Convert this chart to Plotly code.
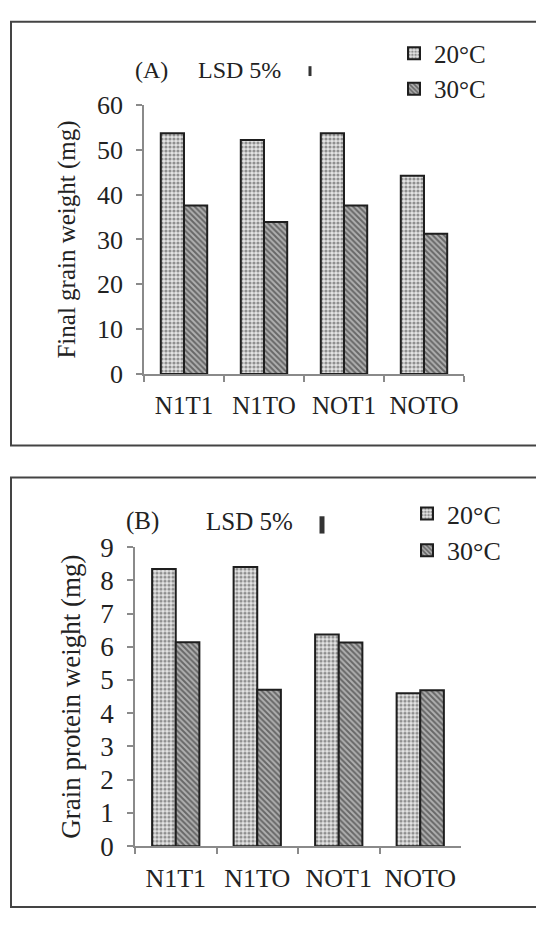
import plotly.graph_objects as go

W, H = 536, 925

categories = ["N1T1", "N1TO", "NOT1", "NOTO"]
series_names = ["20°C", "30°C"]

grain_20 = [53.7, 52.2, 53.7, 44.2]
grain_30 = [37.6, 33.9, 37.6, 31.3]
protein_20 = [8.34, 8.40, 6.37, 4.60]
protein_30 = [6.14, 4.71, 6.13, 4.69]

lsd_a = 2.2
lsd_b = 0.52

yticks_a = [0, 10, 20, 30, 40, 50, 60]
yticks_b = [0, 1, 2, 3, 4, 5, 6, 7, 8, 9]

FONT = "Liberation Serif"
TXT = "#222222"

# pixel layout helpers (margins are zero, so paper == pixel / size)
def px(x):
    return x / W

def py(y):
    return 1 - y / H

A_x = (144, 464)
A_y = (93, 371)  # top (60), bottom (0)
B_x = (135, 461)
B_y = (550, 859)  # top (9), bottom (0)

fig = go.Figure()

pat20 = dict(shape=".", size=4, solidity=0.5, fgcolor="#3a3a3a", bgcolor="#e4e4e4")
pat30 = dict(shape="\\", size=4, solidity=0.5, fgcolor="#1e1e1e", bgcolor="#b0b0b0")
line_bar = dict(color="#1e1e1e", width=2)

fig.add_trace(go.Bar(x=categories, y=grain_20, name=series_names[0], xaxis="x", yaxis="y",
                     marker=dict(color="#e4e4e4", pattern=pat20, line=line_bar), legend="legend"))
fig.add_trace(go.Bar(x=categories, y=grain_30, name=series_names[1], xaxis="x", yaxis="y",
                     marker=dict(color="#b0b0b0", pattern=pat30, line=line_bar), legend="legend"))
fig.add_trace(go.Bar(x=categories, y=protein_20, name=series_names[0], xaxis="x2", yaxis="y2",
                     marker=dict(color="#e4e4e4", pattern=pat20, line=line_bar), legend="legend2"))
fig.add_trace(go.Bar(x=categories, y=protein_30, name=series_names[1], xaxis="x2", yaxis="y2",
                     marker=dict(color="#b0b0b0", pattern=pat30, line=line_bar), legend="legend2"))

def axis_common(size):
    return dict(showline=True, linecolor="#8a8a8a", linewidth=1.5, ticks="outside",
                ticklen=6, tickcolor="#8a8a8a", tickwidth=1.5, showgrid=False, zeroline=False,
                ticklabelstandoff=8,
                tickfont=dict(family=FONT, size=size, color=TXT))

fig.update_layout(
    width=W, height=H,
    margin=dict(l=0, r=0, t=0, b=0),
    paper_bgcolor="white", plot_bgcolor="white",
    bargap=0.42, bargroupgap=0,
    barmode="group",
    xaxis=dict(domain=[px(A_x[0]), px(A_x[1])], anchor="y", tickson="boundaries", **axis_common(25)),
    yaxis=dict(domain=[py(A_y[1]), py(A_y[0])], anchor="x", range=[0, 60], tickvals=yticks_a,
               title=dict(text="Final grain weight (mg)", font=dict(family=FONT, size=25, color=TXT), standoff=14),
               **axis_common(26)),
    xaxis2=dict(domain=[px(B_x[0]), px(B_x[1])], anchor="y2", tickson="boundaries", **axis_common(26)),
    yaxis2=dict(domain=[py(B_y[1]), py(B_y[0])], anchor="x2", range=[0, 9], tickvals=yticks_b,
                title=dict(text="Grain protein weight (mg)", font=dict(family=FONT, size=27, color=TXT), standoff=12),
                **axis_common(27)),
    legend=dict(x=px(394), y=py(16), xanchor="left", yanchor="top", bgcolor="rgba(0,0,0,0)",
                font=dict(family=FONT, size=25, color=TXT), itemwidth=30, tracegroupgap=0,
                traceorder="normal"),
    legend2=dict(x=px(407), y=py(491), xanchor="left", yanchor="top", bgcolor="rgba(0,0,0,0)",
                 font=dict(family=FONT, size=26, color=TXT), itemwidth=30, tracegroupgap=0,
                 traceorder="normal"),
    showlegend=True,
)

# panel labels
fig.add_annotation(x=px(133), y=py(57), xref="paper", yref="paper", text="(A)", showarrow=False,
                   xanchor="left", yanchor="middle", font=dict(family=FONT, size=24, color=TXT))
fig.add_annotation(x=px(196), y=py(57), xref="paper", yref="paper", text="LSD 5%", showarrow=False,
                   xanchor="left", yanchor="middle", font=dict(family=FONT, size=24, color=TXT))
fig.add_annotation(x=px(124), y=py(523), xref="paper", yref="paper", text="(B)", showarrow=False,
                   xanchor="left", yanchor="middle", font=dict(family=FONT, size=25, color=TXT))
fig.add_annotation(x=px(204), y=py(523), xref="paper", yref="paper", text="LSD 5%", showarrow=False,
                   xanchor="left", yanchor="middle", font=dict(family=FONT, size=25, color=TXT))

# LSD bars, sized from LSD values on each panel's scale
ppu_a = (A_y[1] - A_y[0]) / 60
ppu_b = (B_y[1] - B_y[0]) / 9
la = lsd_a * ppu_a
lb = lsd_b * ppu_b
fig.add_shape(type="line", xref="paper", yref="paper", x0=px(310), x1=px(310),
              y0=py(58 + la / 2), y1=py(58 - la / 2), line=dict(color="#333333", width=3))
fig.add_shape(type="line", xref="paper", yref="paper", x0=px(322), x1=px(322),
              y0=py(527 + lb / 2), y1=py(527 - lb / 2), line=dict(color="#333333", width=5))

# panel frames
for (t, b) in [(7, 445), (478, 922)]:
    fig.add_shape(type="rect", xref="paper", yref="paper", x0=px(11), x1=px(560),
                  y0=py(b), y1=py(t), line=dict(color="#444444", width=2), layer="below")

fig.write_html("out.html")
